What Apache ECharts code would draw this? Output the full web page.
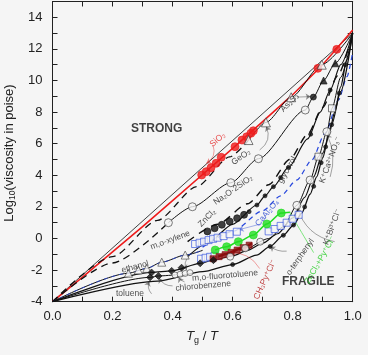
<!DOCTYPE html>
<html><head><meta charset="utf-8">
<script src="https://cdn.jsdelivr.net/npm/echarts@6/dist/echarts.min.js"></script>
<style>html,body{margin:0;padding:0;background:#f5f5f5}#c{width:368px;height:355px}</style>
</head><body><div id="c"></div>
<script>
// ---- data (x = Tg/T, y = log10 viscosity) ----
const refLine = [[0,-4],[1,13]];
const sio2Line = [[0,-4],[0.1,-2.45],[0.2,-0.85],[0.3,0.75],[0.4,2.4],[0.5,4.05],[0.6,5.7],[0.7,7.4],[0.8,9.1],[0.9,11.0],[1,13.2]];
const sio2Pts = [[0.497,4.02],[0.512,4.23],[0.528,4.48],[0.545,4.76],[0.562,5.14],[0.608,5.81],[0.631,6.23],[0.647,6.44],[0.661,6.66],[0.669,6.82],[0.884,10.77],[0.947,11.97]];
const geo2Dash = [[0,-4],[0.2,-1.15],[0.35,1.15],[0.48,3.28],[0.59,5.16],[0.653,6.23]];
const geo2Line = [[0.653,6.23],[0.711,7.35],[0.795,8.94],[0.897,11.0],[1,13]];
const geo2Pts = [[0.653,6.23],[0.711,7.35],[0.795,8.94],[0.897,11.0]];
const naDash = [[0,-4],[0.2,-1.55],[0.386,1.0]];
const naLine = [[0.386,1.0],[0.466,2.01],[0.594,3.53],[0.686,5.05],[0.842,8.13],[0.869,8.95],[0.903,10.0],[0.942,11.09],[1,13]];
const naPts = [[0.386,1.0],[0.466,2.01],[0.594,3.53],[0.686,5.05],[0.842,8.13]];
const as2s3Tri = [[0.903,10.0],[0.942,11.09]];
const as2s3Dot = [[0.869,8.95]];
const midDash = [[0.45,-0.2],[0.55,0.9],[0.65,2.2],[0.72,3.4],[0.79,5.0],[0.85,6.6],[0.9,8.3],[0.95,10.3],[1,13]];
const glyLine = [[0.45,-1.15],[0.516,-0.3],[0.6,0.9],[0.681,2.12],[0.708,2.7],[0.736,3.28],[0.786,4.5],[0.85,6.3],[0.892,8.0],[0.925,9.4],[0.96,11],[1,13]];
const glyPts = [[0.655,1.7],[0.681,2.12],[0.708,2.7],[0.736,3.28],[0.76,3.85],[0.786,4.5],[0.86,6.6],[0.925,9.4]];
const zncl2Pts = [[0.516,0.45],[0.54,0.65],[0.564,0.87],[0.59,1.08],[0.615,1.28],[0.638,1.5]];
const caLine = [[0.5,-0.55],[0.6,0.45],[0.7,1.75],[0.76,2.7],[0.814,3.7],[0.864,4.97],[0.908,6.66],[0.953,8.77],[0.981,10.24],[1,11.8]];
const blueSqUp = [[0.475,-0.35],[0.49,-0.27],[0.505,-0.2],[0.52,-0.1],[0.535,-0.02],[0.55,0.05],[0.57,0.15],[0.59,0.27],[0.614,0.43]];
const blueSqLow = [[0.495,-1.28],[0.51,-1.22],[0.525,-1.16],[0.54,-1.1]];
const blueSqX = [[0.72,0.45],[0.74,0.6],[0.76,0.8],[0.78,1.0],[0.8,1.25],[0.82,1.5]];
const greenLine = [[0.542,-0.73],[0.58,-0.52],[0.619,-0.2],[0.669,0.22],[0.714,0.92],[0.762,1.61],[0.792,1.66]];
const greenPts = [[0.542,-0.73],[0.58,-0.52],[0.619,-0.2],[0.669,0.22],[0.714,0.92],[0.762,1.61]];
const chLine = [[0.535,-1.28],[0.58,-0.98],[0.625,-0.65],[0.665,-0.3]];
const chPts = [[0.535,-1.28],[0.555,-1.15],[0.575,-1.02],[0.595,-0.88],[0.615,-0.73],[0.635,-0.58],[0.655,-0.42]];
const otpPts = [[0.592,-1.15],[0.642,-0.62],[0.692,-0.2]];
const lowA = [[0,-4],[0.253,-2.2],[0.314,-1.89],[0.364,-1.5],[0.442,-1.05],[0.5,-0.75]];
const lowATri = [[0.253,-2.2],[0.286,-1.99],[0.314,-1.89],[0.364,-1.5],[0.442,-1.05]];
const lowB = [[0,-4],[0.33,-2.15],[0.397,-2.05],[0.492,-1.57],[0.536,-1.37],[0.6,-1.1],[0.65,-0.75],[0.7,-0.3],[0.75,0.3],[0.8,1.3],[0.84,2.6],[0.87,3.9],[0.9,5.4],[0.93,7.2],[0.96,9.3],[1,13]];
const lowBDia = [[0.33,-2.15],[0.397,-2.05],[0.43,-1.85],[0.492,-1.57],[0.536,-1.37]];
const lowC = [[0,-4],[0.325,-2.46],[0.353,-2.37],[0.41,-2.3]];
const lowCDia = [[0.325,-2.46],[0.353,-2.37]];
const fluoroPts = [[0.408,-2.31],[0.425,-2.26],[0.442,-2.21],[0.458,-2.16]];
const fragLine = [[0,-4],[0.35,-2.7],[0.5,-2.1],[0.6,-1.65],[0.68,-1.05],[0.725,-0.5],[0.769,0.2],[0.803,0.85],[0.83,1.6],[0.858,2.8],[0.88,3.9],[0.9,5.1],[0.92,6.5],[0.94,8.0],[0.96,9.6],[0.98,11.3],[1,13]];
const fragPts = [[0.6,-1.65],[0.725,-0.5],[0.769,0.2],[0.803,0.85],[0.84,2.0],[0.87,3.3],[0.895,4.8],[0.91,5.8],[0.93,7.2],[0.955,9.2],[0.975,11]];
const kcaLine = [[0.65,-0.7],[0.72,0.0],[0.77,0.75],[0.814,2.1],[0.858,3.7],[0.886,5.18],[0.914,6.76],[0.931,8.24],[0.96,10.2],[1,13]];
const kcaCirc = [[0.814,2.1],[0.858,3.7],[0.914,6.76]];
const kcaSq = [[0.886,5.18],[0.931,8.24]];
const xTickLabels = ['0.0','0.2','0.4','0.6','0.8','1.0'];
const yTickLabels = ['-4','-2','0','2','4','6','8','10','12','14'];

// annotations: [x, y, text, rotate, color, bold]
const notes = [
  [0.347,6.93,'STRONG',0,'#111',true],
  [0.852,-2.75,'FRAGILE',0,'#111',true],
  [0.55,6.25,'SiO₂',40,'#e41a1a'],
  [0.628,5.15,'GeO₂',35,'#222'],
  [0.79,8.6,'As₂S₃',45,'#222'],
  [0.602,3.07,'Na₂O·2SiO₂',35,'#222'],
  [0.782,4.34,'glycerol',60,'#222'],
  [0.715,1.61,'CaAl₂O₄',50,'#2240d0'],
  [0.515,1.3,'ZnCl₂',45,'#222'],
  [0.392,-0.1,'m,o-xylene',20,'#222'],
  [0.275,-1.8,'ethanol',15,'#222'],
  [0.575,-2.35,'m,o-fluorotoluene',5,'#222'],
  [0.258,-3.5,'toluene',0,'#222'],
  [0.502,-3.0,'chlorobenzene',5,'#222'],
  [0.708,-2.6,'CH₃Py⁺Cl⁻',65,'#b01010'],
  [0.825,-1.17,'o-terphenyl',55,'#222'],
  [0.892,-1.36,'ZnCl₂+Py⁺Cl⁻',60,'#22cc22'],
  [0.932,0.73,'K⁺Bi³⁺Cl⁻',70,'#222'],
  [0.925,4.97,'K⁺Ca²⁺NO₃⁻',70,'#222']
];
// arrows: [x1,y1,x2,y2,curveness,color]
const arrows = [
  [0.535,5.9,0.512,4.75,0.4,'#e41a1a'],
  [0.69,5.6,0.712,7.1,-0.4,'#222'],
  [0.815,8.95,0.86,8.98,0,'#222'],
  [0.455,-1.15,0.447,-2.0,-0.4,'#222'],
  [0.33,-3.5,0.322,-2.7,0.3,'#222'],
  [0.4,-3.0,0.355,-2.5,0.3,'#222'],
  [0.44,-2.75,0.42,-2.45,0.2,'#222'],
  [0.69,-1.9,0.59,-0.9,-0.3,'#e41a1a'],
  [0.78,-0.8,0.725,-0.5,0.2,'#222'],
  [0.94,-0.2,0.816,1.95,0.3,'#222'],
  [0.925,3.9,0.914,6.6,-0.2,'#222'],
  [0.69,0.9,0.62,0.55,0,'#2240d0']
];
const arcGreen = [[0.87,-0.9],[0.79,1.66]];

const FONT = 'Liberation Sans, Arial, DejaVu Sans, sans-serif';
function L(data, color, width, type, smooth){
  return {type:'line', data, symbol:'none', smooth: smooth===undefined?0.25:smooth, smoothMonotone:'x',
    lineStyle:{color, width, type: type||'solid'}, silent:true, z:2, animation:false};
}
function S(data, symbol, size, fill, border, bw){
  return {type:'scatter', data, symbol, symbolSize:size, silent:true, z:4, animation:false,
    itemStyle:{color:fill, borderColor:border, borderWidth:bw||0.8}};
}
const BG = '#f5f5f5';
const series = [
  L(refLine,'#111',0.8,'solid',false),
  L(sio2Line,'#ee1c1c',1.6,'solid',false),
  L(geo2Dash,'#111',1.3,[7,5]),
  L(geo2Line,'#111',1),
  L(naDash,'#111',1.3,[7,5]),
  L(naLine,'#111',1),
  L(midDash,'#111',1.4,[8,6]),
  L(glyLine,'#111',1.2),
  L(caLine,'#2848dd',1.2,[5,4]),
  L(lowA,'#111',1),
  L(lowA,'#2848dd',0.8,[4,4]),
  L(lowB,'#111',1.2),
  L(lowC,'#111',1),
  L(fragLine,'#111',1.3),
  L(kcaLine,'#111',1),
  L(greenLine,'#22dd22',1.6),
  L(chLine,'#8a0e0e',2.5),
  L(arcGreen,'#5ee05e',0.8,'solid',0.8),
  S(sio2Pts,'circle',8,'#ee1c1c','#ee1c1c'),
  S(geo2Pts,'triangle',9,BG,'#333'),
  S(naPts,'circle',8,BG,'#333'),
  S(as2s3Tri,'triangle',7,'#111','#111'),
  S(as2s3Dot,'circle',6,'#111','#111'),
  S(glyPts,'circle',4,'#111','#111'),
  S(zncl2Pts,'circle',7,'#111','#111'),
  S(blueSqUp,'rect',7,BG,'#2848dd'),
  S(blueSqLow,'rect',7,BG,'#2848dd'),
  S(blueSqX,'rect',7,BG,'#2848dd'),
  S(greenPts,'circle',8,'#22dd22','#22dd22'),
  S(chPts,'rect',6,'#8a0e0e','#8a0e0e'),
  S(otpPts,'circle',7,BG,'#333'),
  S(lowATri,'triangle',8,BG,'#444'),
  S(lowBDia,'diamond',7,'#111','#111'),
  S(lowCDia,'diamond',7,'#111','#111'),
  S(fluoroPts,'circle',6,BG,'#444'),
  S(fragPts,'circle',4,'#111','#111'),
  S(kcaCirc,'circle',8,BG,'#333'),
  S(kcaSq,'rect',7,BG,'#333'),
  {type:'lines', coordinateSystem:'cartesian2d', silent:true, z:3, animation:false,
   symbol:['none','arrow'], symbolSize:[0,5],
   data: arrows.map(a=>({coords:[[a[0],a[1]],[a[2],a[3]]], lineStyle:{color:a[5], width:0.8, curveness:a[4]}}))},
  {type:'scatter', symbolSize:0, silent:true, z:6, animation:false,
   data: notes.map(n=>({value:[n[0],n[1]], label:{show:true, position:'inside', formatter:n[2], rotate:n[3], color:n[4],
     fontSize:n[5]?12:8.5, fontWeight:n[5]?'bold':'normal', fontFamily:FONT}}))}
];

const chart = echarts.init(document.getElementById('c'), null, {renderer:'canvas'});
const axisCommon = {type:'value', axisLine:{show:true, onZero:false, lineStyle:{color:'#222', width:1}},
  axisTick:{show:true, inside:true, length:5, lineStyle:{color:'#222'}}, splitLine:{show:false}};
chart.setOption({
  backgroundColor: BG,
  animation:false,
  grid:{left:52.5, right:15.3, top:1.5, bottom:53.3, show:false},
  xAxis:[
    Object.assign({}, axisCommon, {min:0, max:1, interval:0.1, position:'bottom',
      axisLabel:{fontSize:13, color:'#222', fontFamily:FONT, margin:8,
        formatter:v=>{const i=Math.round(v*10); return i%2===0? xTickLabels[i/2] : '';}}}),
    Object.assign({}, axisCommon, {min:0, max:1, interval:0.1, position:'top', axisLabel:{show:false}})
  ],
  yAxis:[
    Object.assign({}, axisCommon, {min:-4, max:15, interval:1, position:'left',
      axisLabel:{fontSize:13, color:'#222', fontFamily:FONT, margin:10,
        formatter:v=>{const i=Math.round(v); return (i+4)%2===0 && i<=14 ? yTickLabels[(i+4)/2] : '';}}}),
    Object.assign({}, axisCommon, {min:-4, max:15, interval:1, position:'right', axisLabel:{show:false}})
  ],
  graphic:[
    {type:'text', x:9, y:153, rotation:Math.PI/2, silent:true, style:{
      text:'{n|Log}{s|10}{n|(viscosity in poise)}', align:'center', verticalAlign:'middle', fill:'#222',
      rich:{n:{fontSize:13, fontFamily:FONT, fill:'#222'}, s:{fontSize:8.5, fontFamily:FONT, fill:'#222', padding:[7,0,0,0]}}}},
    {type:'text', x:202, y:336, silent:true, style:{
      text:'{i|T}{s|g}{n| / }{i|T}', align:'center', verticalAlign:'middle', fill:'#222',
      rich:{i:{fontSize:13, fontStyle:'italic', fontFamily:FONT, fill:'#222'},
            s:{fontSize:9, fontFamily:FONT, fill:'#222', padding:[9,0,0,0]},
            n:{fontSize:13, fontFamily:FONT, fill:'#222'}}}}
  ],
  series: series
});
</script></body></html>
